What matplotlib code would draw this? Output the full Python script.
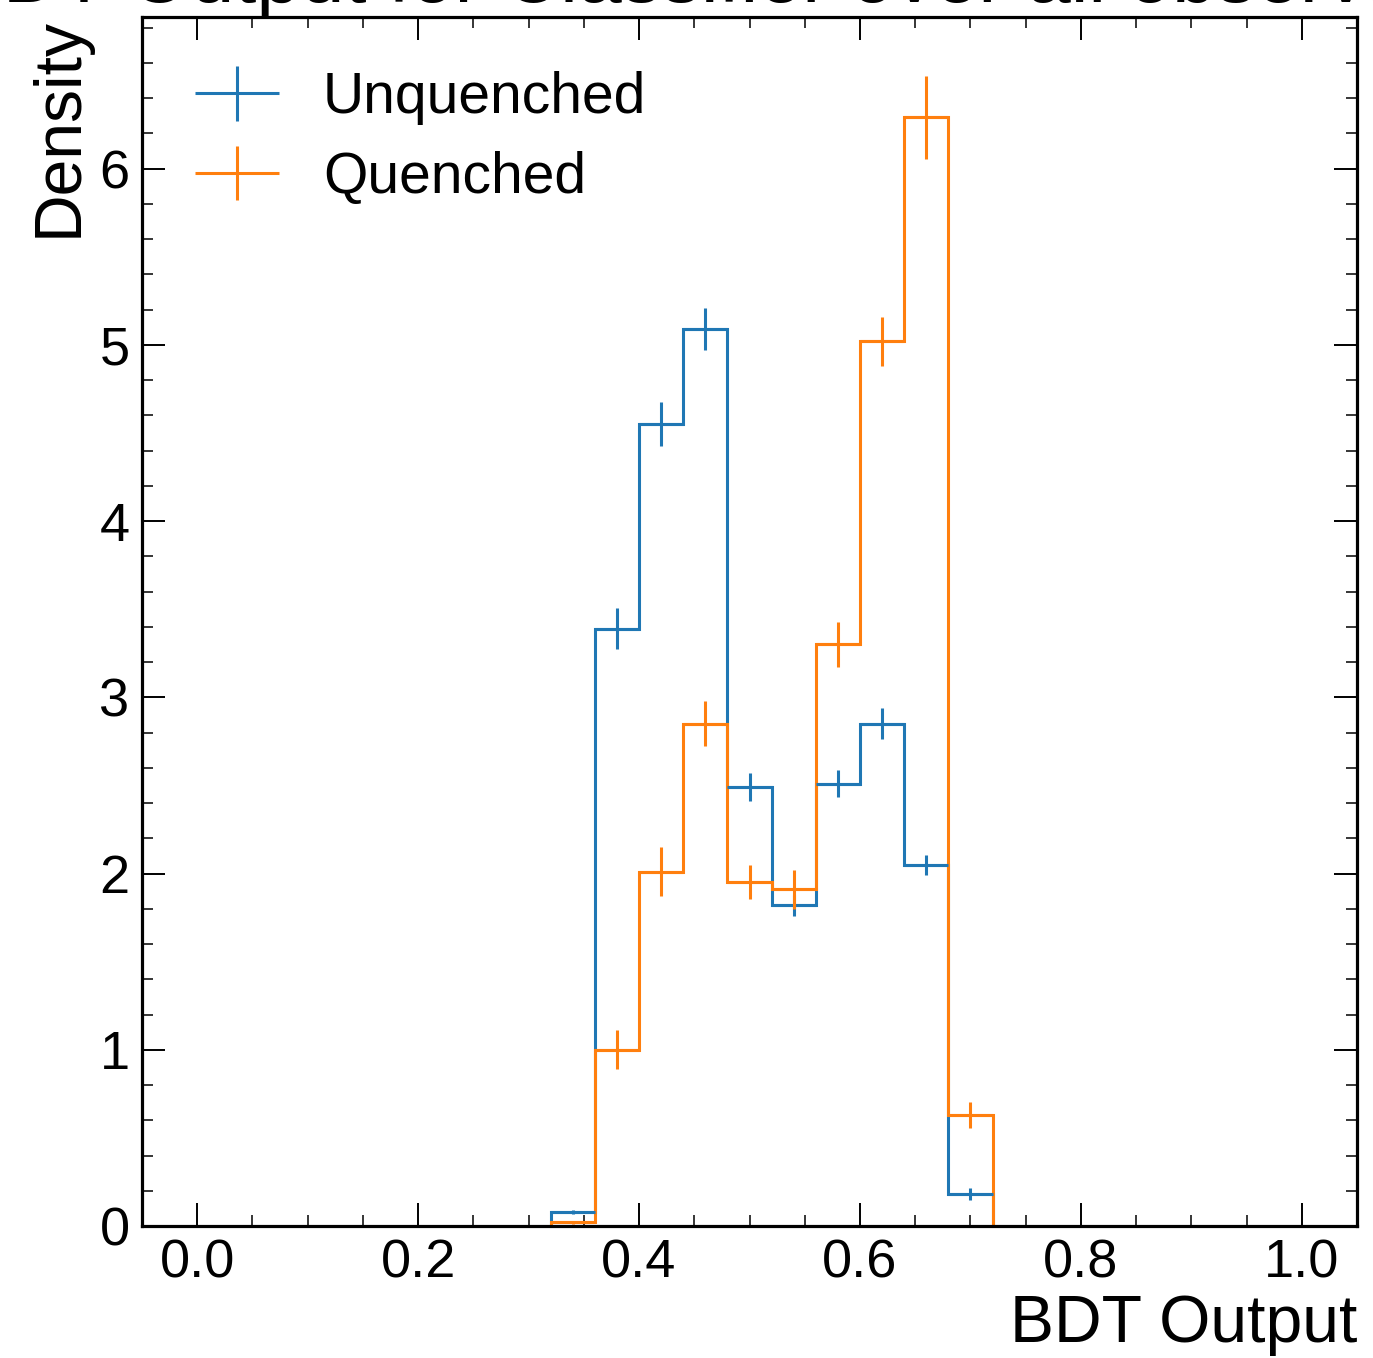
import numpy as np
import matplotlib
matplotlib.use("Agg")
import matplotlib.pyplot as plt
from matplotlib.ticker import MultipleLocator
from matplotlib.container import ErrorbarContainer
from matplotlib.legend_handler import HandlerErrorbar

plt.rcParams['font.family'] = ['Liberation Sans', 'DejaVu Sans']

edges = [0.32, 0.36, 0.40, 0.44, 0.48, 0.52, 0.56, 0.60, 0.64, 0.68, 0.72]
unq_vals = [0.08, 3.39, 4.55, 5.09, 2.49, 1.82, 2.51, 2.85, 2.05, 0.18]
unq_errs = [0.01, 0.114, 0.125, 0.12, 0.08, 0.06, 0.075, 0.088, 0.057, 0.034]
q_vals = [0.02, 1.00, 2.01, 2.85, 1.95, 1.91, 3.30, 5.02, 6.29, 0.63]
q_errs = [0.01, 0.11, 0.14, 0.128, 0.096, 0.11, 0.13, 0.14, 0.236, 0.074]
labels = ["Unquenched", "Quenched"]
colors = ["#1f77b4", "#ff7f0e"]

W, H = 1373, 1358
fig = plt.figure(figsize=(W / 100, H / 100), dpi=100)
ax = fig.add_axes([142 / W, 1 - 1226 / H, (1357 - 142) / W, (1226 - 17) / H])

edges_a = np.array(edges)
centers = 0.5 * (edges_a[1:] + edges_a[:-1])
halfw = 0.5 * np.diff(edges_a)

handles = []
for vals, errs, lab, c in [(unq_vals, unq_errs, labels[0], colors[0]),
                           (q_vals, q_errs, labels[1], colors[1])]:
    ax.stairs(vals, edges_a, baseline=0, color=c, lw=2.2)
    eb = ax.errorbar(centers, vals, yerr=errs, xerr=halfw, fmt='none',
                     ecolor=c, elinewidth=2.2, capsize=0, label=lab)
    handles.append(eb)

ax.set_xlim(-0.05, 1.05)
ax.set_ylim(0, 6.86)
ax.xaxis.set_major_locator(MultipleLocator(0.2))
ax.xaxis.set_minor_locator(MultipleLocator(0.05))
ax.yaxis.set_major_locator(MultipleLocator(1))
ax.yaxis.set_minor_locator(MultipleLocator(0.2))
ax.tick_params(which='both', direction='in', top=True, right=True)
ax.tick_params(which='major', length=16.5, width=1.4, labelsize=39, pad=9)
ax.tick_params(which='minor', length=8, width=1.1)
for s in ax.spines.values():
    s.set_linewidth(2.3)

ax.set_xlabel("BDT Output", fontsize=47.5, loc='right', labelpad=4)
ax.set_ylabel("Density", fontsize=47.5, loc='top', labelpad=6)

ax.legend(handles=handles, loc='upper left', frameon=False, fontsize=41,
          handlelength=1.47, handletextpad=0.78, labelspacing=0.45,
          borderaxespad=0.0, bbox_to_anchor=(0.0247, 0.974),
          handler_map={ErrorbarContainer: HandlerErrorbar(xerr_size=0.74, yerr_size=0.48)})

fig.text(-50 / W, 1 - 2 / H, "BDT Output for Classifier over all observables",
         fontsize=57, ha='left', va='baseline')

fig.savefig("out.png", dpi=100)
